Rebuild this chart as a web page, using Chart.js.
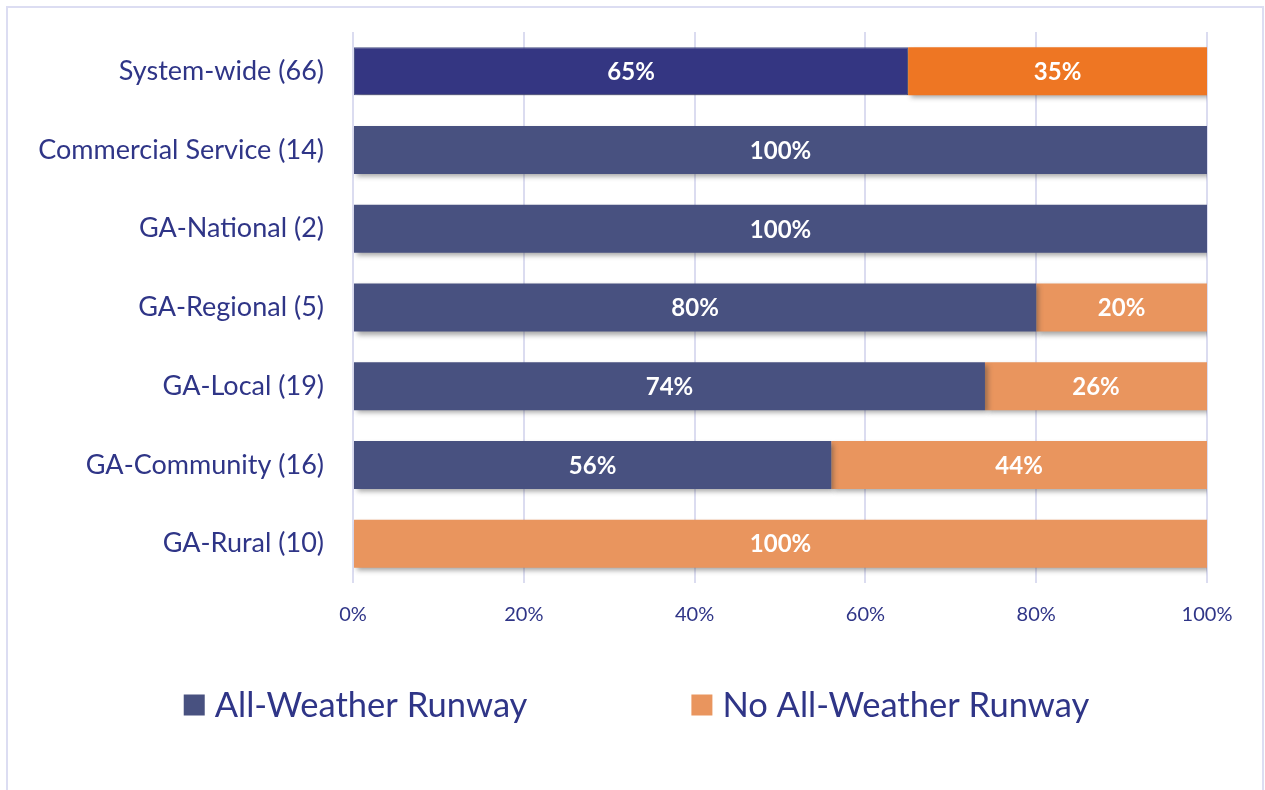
<!DOCTYPE html>
<html>
<head>
<meta charset="utf-8">
<script src="https://cdn.jsdelivr.net/npm/chart.js@4.4.1/dist/chart.umd.min.js"></script>
<style>
  html, body { margin: 0; padding: 0; background: #fff; }
  #wrap { position: relative; width: 1265px; height: 790px; overflow: hidden; }
  #frame {
    position: absolute; left: 6px; top: 6px; width: 1254px; height: 820px;
    border: 2px solid #dcddf2; pointer-events: none;
  }
</style>
</head>
<body>
<div id="wrap">
  <canvas id="chart" width="1265" height="790"></canvas>
  <div id="frame"></div>
</div>
<script>
const categories = [
  'System-wide (66)',
  'Commercial Service (14)',
  'GA-National (2)',
  'GA-Regional (5)',
  'GA-Local (19)',
  'GA-Community (16)',
  'GA-Rural (10)',
];
const seriesNames = ['All-Weather Runway', 'No All-Weather Runway'];
const allWeather = [65, 100, 100, 80, 74, 56, 0];
const noAllWeather = [35, 0, 0, 20, 26, 44, 100];
const xTickValues = [0, 20, 40, 60, 80, 100];

const TEXT = '#2f3587';
const BLUE = '#485180';
const BLUE_TOTAL = '#343682';
const ORANGE = '#e9955e';
const ORANGE_TOTAL = '#ee7623';
const GRID = '#dbdcf0';
const FONT = "Lato, 'Open Sans', sans-serif";

Chart.defaults.font.family = FONT;
Chart.defaults.color = TEXT;

// first row (system-wide) gets the stronger colours
const rowColors = (total, other) => categories.map((c, i) => (i === 0 ? total : other));

// soft drop shadow under the bars, then the white percentage labels on top
const barDecor = {
  id: 'barDecor',
  beforeDatasetsDraw(chart) {
    const ctx = chart.ctx;
    ctx.save();
    ctx.shadowColor = 'rgba(60, 60, 60, 0.45)';
    ctx.shadowBlur = 5;
    ctx.shadowOffsetX = 3;
    ctx.shadowOffsetY = 3;
  },
  afterDatasetsDraw(chart) {
    const ctx = chart.ctx;
    ctx.restore();
    ctx.save();
    ctx.fillStyle = '#fff';
    ctx.font = `bold 24px ${FONT}`;
    ctx.textAlign = 'center';
    ctx.textBaseline = 'middle';
    chart.data.datasets.forEach((ds, di) => {
      chart.getDatasetMeta(di).data.forEach((bar, i) => {
        const v = ds.data[i];
        if (!v) return;
        const cx = (bar.x + bar.base) / 2;
        ctx.fillText(v + '%', cx, bar.y + 1);
      });
    });
    ctx.restore();
  },
};

// legend row under the axis, two items spread wide apart
const bottomLegend = {
  id: 'bottomLegend',
  afterDraw(chart) {
    const ctx = chart.ctx;
    const box = 21;
    const gapText = 10;
    const gapItem = 164;
    const y = 705;
    const colors = [BLUE, ORANGE];
    ctx.save();
    ctx.font = `34.5px ${FONT}`;
    ctx.textBaseline = 'middle';
    const widths = seriesNames.map(t => box + gapText + ctx.measureText(t).width);
    const total = widths.reduce((a, b) => a + b, 0) + gapItem * (widths.length - 1);
    let x = chart.width / 2 + 4 - total / 2;
    seriesNames.forEach((name, i) => {
      ctx.fillStyle = colors[i];
      ctx.fillRect(x, y - box / 2, box, box);
      ctx.fillStyle = TEXT;
      ctx.fillText(name, x + box + gapText, y + 1);
      x += widths[i] + gapItem;
    });
    ctx.restore();
  },
};

new Chart(document.getElementById('chart'), {
  type: 'bar',
  data: {
    labels: categories,
    datasets: [
      {
        label: seriesNames[0],
        data: allWeather,
        backgroundColor: rowColors(BLUE_TOTAL, BLUE),
        borderColor: rowColors('#4d568a', BLUE),
        borderWidth: categories.map((c, i) => (i === 0 ? 1 : 0)),
        borderSkipped: false,
      },
      {
        label: seriesNames[1],
        data: noAllWeather,
        backgroundColor: rowColors(ORANGE_TOTAL, ORANGE),
        borderWidth: 0,
      },
    ],
  },
  options: {
    indexAxis: 'y',
    responsive: false,
    animation: false,
    layout: { padding: { top: 32, right: 58, bottom: 147, left: 0 } },
    datasets: { bar: { barPercentage: 0.61, categoryPercentage: 1 } },
    scales: {
      x: {
        stacked: true,
        min: 0,
        max: 100,
        afterBuildTicks: scale => { scale.ticks = xTickValues.map(v => ({ value: v })); },
        afterFit: scale => { scale.height = 60; },
        grid: { color: GRID, lineWidth: 2, drawTicks: false },
        border: { display: false },
        ticks: { padding: 20, font: { size: 20 }, callback: v => v + '%' },
      },
      y: {
        stacked: true,
        afterFit: scale => {
          scale.width = 353;
          // labels sit beside the bars, they need no room above or below
          scale.paddingTop = 0;
          scale.paddingBottom = 0;
        },
        grid: { display: false, drawTicks: false },
        border: { display: false },
        ticks: { padding: 29, font: { size: 27 } },
      },
    },
    plugins: {
      legend: { display: false },
      tooltip: { enabled: false },
    },
  },
  plugins: [barDecor, bottomLegend],
});
</script>
</body>
</html>
